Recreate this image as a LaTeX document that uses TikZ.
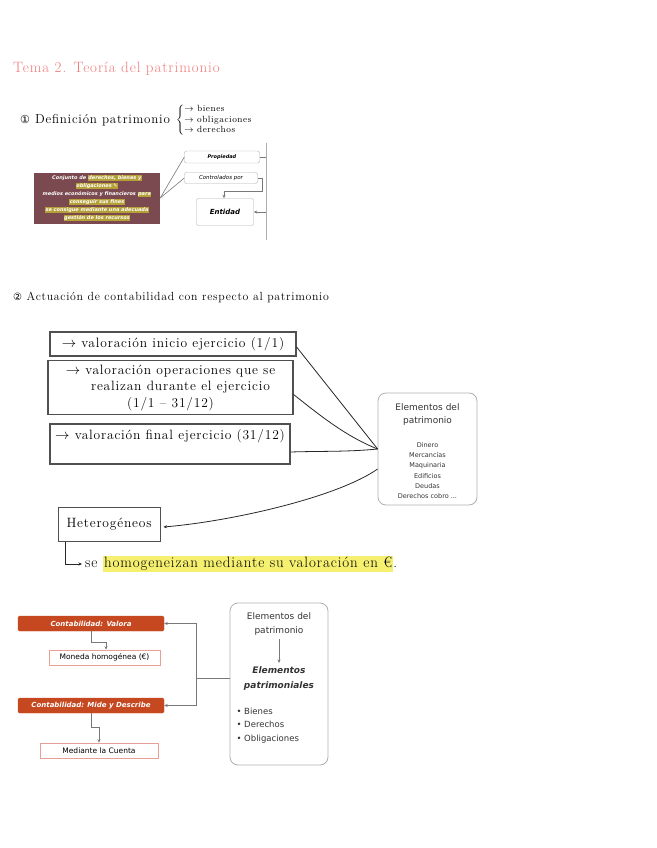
\documentclass[tikz,border=0pt]{standalone}
\usepackage{fontspec}
\newfontfamily\typed{DejaVu Sans}
\newfontfamily\handfont{Latin Modern Roman}[LetterSpace=6]
\usetikzlibrary{arrows.meta}

\definecolor{titlepink}{RGB}{238,125,125}
\definecolor{patbrown}{RGB}{122,74,80}
\definecolor{hlmustard}{RGB}{180,160,54}
\definecolor{hlyellow}{RGB}{246,240,112}
\definecolor{accorange}{RGB}{198,72,32}
\definecolor{palered}{RGB}{232,160,150}
\definecolor{boxgrey}{RGB}{80,80,80}
\definecolor{elemgrey}{RGB}{175,175,175}
\definecolor{conngrey}{RGB}{120,120,120}

\newcommand{\hl}[1]{{\setlength{\fboxsep}{1pt}\colorbox{hlyellow}{#1}}}
\newcommand{\hlb}[1]{{\setlength{\fboxsep}{0.4pt}\colorbox{hlmustard}{#1}}}

\begin{document}
\begin{tikzpicture}[x=1pt,y=-1pt,
    >={Stealth[length=3.5pt,width=3pt]},
    hand/.style={font=\handfont\fontsize{13.5}{16.5}\selectfont, inner sep=0pt},
    handbox/.style={draw=boxgrey, line width=1.2pt, inner sep=4pt,
      font=\handfont\fontsize{13.5}{16.5}\selectfont},
    typedbox/.style={draw=elemgrey, rounded corners=2pt, inner sep=0pt,
      font=\typed\bfseries\itshape\fontsize{5}{6}\selectfont},
    elembox/.style={draw=elemgrey, line width=0.8pt, rounded corners=8pt},
    orangebox/.style={fill=accorange, draw=accorange, rounded corners=1.5pt,
      text=white, font=\typed\bfseries\itshape\fontsize{7}{9}\selectfont,
      minimum width=146pt, minimum height=15pt, inner sep=0pt},
    palebox/.style={draw=palered, line width=0.6pt, minimum height=15pt,
      inner sep=0pt, font=\typed\fontsize{7.5}{9}\selectfont},
    conn/.style={draw=conngrey, line width=0.6pt},
    ink/.style={draw=black!85, line width=0.8pt}]

    \useasboundingbox (0,0) rectangle (656,848);

    % definicion
    \node[hand, anchor=base west, text=titlepink, font=\handfont\fontsize{15}{18}\selectfont]
      (title) at (13,73) {Tema 2. Teoría del patrimonio};
    \node[hand, anchor=base west, font=\handfont\fontsize{13}{15}\selectfont]
      (def) at (20,124) {{\typed\fontsize{11}{13}\selectfont ①} Definición patrimonio};
    \node[anchor=west, inner sep=0pt] (defitems) at (176,120)
      {\handfont\fontsize{9}{10}\selectfont$\left\{\begin{tabular}{@{}l@{}}$\rightarrow$ bienes\\
        $\rightarrow$ obligaciones\\ $\rightarrow$ derechos\end{tabular}\right.$};

    \node[fill=patbrown, text=white, align=center, minimum width=126pt,
      minimum height=51pt, inner sep=0pt,
      font=\typed\bfseries\itshape\fontsize{5}{8}\selectfont] (concept) at (97,198)
      {Conjunto de \hlb{derechos, bienes y}\\ \hlb{obligaciones ✎}\\
       medios económicos y financieros \hlb{para}\\ \hlb{conseguir sus fines}\\
       \hlb{se consigue mediante una adecuada}\\ \hlb{gestión de los recursos}};
    \node[typedbox, minimum width=75pt, minimum height=12pt] (prop) at (222,157) {Propiedad};
    \node[typedbox, minimum width=73pt, minimum height=11pt,
      font=\typed\itshape\fontsize{5.5}{6}\selectfont] (ctrl) at (221,178) {Controlados por};
    \node[typedbox, minimum width=57pt, minimum height=27pt,
      font=\typed\bfseries\itshape\fontsize{7}{8}\selectfont] (ent) at (225,212) {Entidad};
    \coordinate (railtop) at (266,143);
    \coordinate (railbot) at (266,240);

    \draw[conn, draw=elemgrey] (railtop) -- (railbot);
    \draw[conn] (concept.east) -- (prop.west);
    \draw[conn] (concept.east) -- (ctrl.west);
    \draw[conn] (prop.east) -- (prop.east -| railtop);
    \draw[conn, ->] (ctrl.east) -- ++(5,0) -- ++(0,13) -| ([xshift=-1pt]ent.north);
    \draw[conn, ->] (ent.east -| railtop) -- (ent.east);

    % actuacion
    \node[hand, anchor=base west, font=\handfont\fontsize{11.8}{14}\selectfont] (act) at (13,300)
      {{\typed\fontsize{10}{12}\selectfont ②} Actuación de contabilidad con respecto al patrimonio};

    \node[handbox, minimum width=246pt, minimum height=24pt] (vinicio) at (173,344)
      {$\rightarrow$ valoración inicio ejercicio (1/1)};
    \node[handbox, minimum width=245pt, minimum height=51pt, align=center] (voper) at (170.5,387.5)
      {$\rightarrow$ valoración operaciones que se\\ \hspace*{20pt}realizan durante el ejercicio\\ (1/1 – 31/12)};
    \node[handbox, minimum width=240pt, text height=11pt, text depth=21pt] (vfinal) at (170,444)
      {$\rightarrow$ valoración final ejercicio (31/12)};

    \node[elembox, minimum width=99pt, minimum height=112pt] (elem) at (427.5,449) {};
    \node[font=\typed\fontsize{9}{13}\selectfont, align=center, anchor=north, text=black!80]
      (elemtitle) at (427.5,400) {Elementos del\\patrimonio};
    \node[font=\typed\fontsize{6.5}{10.2}\selectfont, align=center, anchor=north, text=black!80]
      (elemlist) at (427.5,439) {Dinero\\Mercancías\\Maquinaria\\Edificios\\Deudas\\Derechos cobro ...};

    \draw[ink] ([yshift=-3pt]vinicio.east) -- (elem.west);
    \draw[ink] ([yshift=-7pt]voper.east) .. controls +(30,24) and +(-30,-12) .. (elem.west);
    \draw[ink] ([yshift=-8pt]vfinal.east) .. controls +(30,-1) and +(-30,3) .. (elem.west);

    \node[handbox, minimum width=102pt, minimum height=34pt, line width=1pt] (het) at (109,524)
      {Heterogéneos};
    \draw[ink, ->] ([yshift=-20pt]elem.west) .. controls +(-40,28) and +(70,-6)
      .. ([xshift=3pt,yshift=-3pt]het.east);

    \node[hand, anchor=west, inner xsep=3pt, font=\handfont\fontsize{15}{17}\selectfont] (homog) at (82,564)
      {se \hl{homogeneizan mediante su valoración en €}.};
    \draw[ink, ->] ([xshift=8pt]het.south west) |- (homog.west);

    % elementos patrimoniales
    \node[orangebox] (valora) at (91,623.5) {Contabilidad: Valora};
    \node[palebox, minimum width=111pt] (moneda) at (104.5,657.5) {Moneda homogénea (€)};
    \node[orangebox] (mide) at (91,705.5) {Contabilidad: Mide y Describe};
    \node[palebox, minimum width=118pt] (cuenta) at (99,750.5) {Mediante la Cuenta};

    \node[elembox, minimum width=98pt, minimum height=162pt] (elem2) at (279,684) {};
    \node[font=\typed\fontsize{9}{14}\selectfont, align=center, anchor=north, text=black!80]
      (e2title) at (279,609) {Elementos del\\patrimonio};
    \node[font=\typed\bfseries\itshape\fontsize{9}{15}\selectfont, align=center, anchor=north, text=black!80]
      (e2sub) at (279,663) {Elementos\\patrimoniales};
    \node[font=\typed\fontsize{8.5}{14}\selectfont, align=left, anchor=north west, text=black!80]
      (e2list) at (233,704) {• Bienes\\• Derechos\\• Obligaciones};
    \draw[conn, ->] (e2title.south) -- (e2sub.north);

    \coordinate (fork) at (196,678);
    \draw[conn] ([yshift=6pt]elem2.west) -- (fork);
    \draw[conn, ->] (fork) |- (valora.east);
    \draw[conn, ->] (fork) |- (mide.east);
    \draw[conn, ->] (valora.south) -- ++(0,11) -| ([xshift=1.5pt]moneda.north);
    \draw[conn, ->] (mide.south) -- ++(0,14) -| (cuenta.north);
\end{tikzpicture}
\end{document}
